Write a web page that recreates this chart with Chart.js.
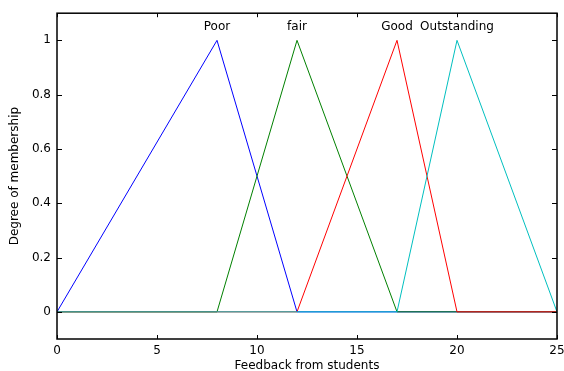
<!DOCTYPE html>
<html>
<head>
<meta charset="utf-8">
<script src="https://cdn.jsdelivr.net/npm/chart.js@4"></script>
<style>
  html, body { margin: 0; padding: 0; background: #fff; }
  #wrap { width: 564px; height: 371px; }
</style>
</head>
<body>
<div id="wrap"><canvas id="mfChart" width="564" height="371"></canvas></div>
<script>
// membership functions (x = feedback, y = degree)
const poorX = [0, 8, 12, 25];
const poorY = [0, 1, 0, 0];
const fairX = [0, 8, 12, 17, 25];
const fairY = [0, 0, 1, 0, 0];
const goodX = [0, 12, 17, 20, 25];
const goodY = [0, 0, 1, 0, 0];
const outX = [0, 17, 20, 25];
const outY = [0, 0, 1, 0];

const mfNames = ['Poor', 'fair', 'Good', 'Outstanding'];
const mfPeaks = [8, 12, 17, 20];
const labelLevel = 1.05;

const xTicks = [0, 5, 10, 15, 20, 25];
const yTicks = [0, 0.2, 0.4, 0.6, 0.8, 1];

const FONT = 'DejaVu Sans, Arial, sans-serif';

function pts(xs, ys) {
    return xs.map((x, i) => ({ x: x, y: ys[i] }));
}

// box round the plot + inward ticks, and the mf names over each peak
const matlabAxes = {
    id: 'matlabAxes',
    afterDatasetsDraw(chart) {
        const ctx = chart.ctx;
        const a = chart.chartArea;
        const xs = chart.scales.x, ys = chart.scales.y;
        ctx.save();
        ctx.strokeStyle = '#000';
        ctx.lineWidth = 1;
        ctx.beginPath();
        xTicks.forEach(v => {
            const px = Math.round(xs.getPixelForValue(v)) + 0.5;
            ctx.moveTo(px, a.bottom); ctx.lineTo(px, a.bottom - 4);
            ctx.moveTo(px, a.top); ctx.lineTo(px, a.top + 4);
        });
        yTicks.forEach(v => {
            const py = Math.round(ys.getPixelForValue(v)) + 0.5;
            ctx.moveTo(a.left, py); ctx.lineTo(a.left + 5, py);
            ctx.moveTo(a.right, py); ctx.lineTo(a.right - 5, py);
        });
        ctx.stroke();
        ctx.lineWidth = 1.5;
        ctx.strokeRect(a.left, a.top, a.right - a.left, a.bottom - a.top);

        ctx.fillStyle = '#000';
        ctx.font = '12px ' + FONT;
        ctx.textAlign = 'center';
        ctx.textBaseline = 'middle';
        mfNames.forEach((name, i) => {
            ctx.fillText(name, xs.getPixelForValue(mfPeaks[i]), ys.getPixelForValue(labelLevel));
        });
        ctx.restore();
    }
};

new Chart(document.getElementById('mfChart'), {
    type: 'line',
    data: {
        datasets: [
            { label: 'Outstanding', data: pts(outX, outY), borderColor: '#00bfbf', order: 1 },
            { label: 'Good', data: pts(goodX, goodY), borderColor: '#ff0000', order: 2 },
            { label: 'fair', data: pts(fairX, fairY), borderColor: '#008000', order: 3 },
            { label: 'Poor', data: pts(poorX, poorY), borderColor: '#0000ff', order: 4 },
        ],
    },
    options: {
        responsive: false,
        animation: false,
        layout: { padding: { top: 13, right: 7, left: 0, bottom: 0 } },
        elements: {
            line: { borderWidth: 1, tension: 0 },
            point: { radius: 0 },
        },
        plugins: {
            legend: { display: false },
            tooltip: { enabled: false },
        },
        scales: {
            x: {
                type: 'linear',
                min: 0,
                max: 25,
                afterBuildTicks: axis => { axis.ticks = xTicks.map(v => ({ value: v })); },
                afterFit: axis => {
                    axis.height = 32;
                    axis.paddingLeft = 0;
                    axis.paddingRight = 0;
                },
                grid: { display: false, drawTicks: false },
                border: { display: false },
                ticks: { color: '#000', font: { family: FONT, size: 12 }, padding: 5, maxRotation: 0 },
                title: {
                    display: true,
                    text: 'Feedback from students',
                    color: '#000',
                    font: { family: FONT, size: 12 },
                    padding: { top: 0, bottom: -2 },
                },
            },
            y: {
                min: -0.1,
                max: 1.1,
                afterBuildTicks: axis => { axis.ticks = yTicks.map(v => ({ value: v })); },
                afterFit: axis => { axis.width = 57; },
                grid: { display: false, drawTicks: false },
                border: { display: false },
                ticks: {
                    color: '#000',
                    font: { family: FONT, size: 12 },
                    padding: 6,
                    callback: v => String(Math.round(v * 10) / 10),
                },
                title: {
                    display: true,
                    text: 'Degree of membership',
                    color: '#000',
                    font: { family: FONT, size: 12 },
                    padding: { top: 8, bottom: 0 },
                },
            },
        },
    },
    plugins: [matlabAxes],
});
</script>
</body>
</html>
